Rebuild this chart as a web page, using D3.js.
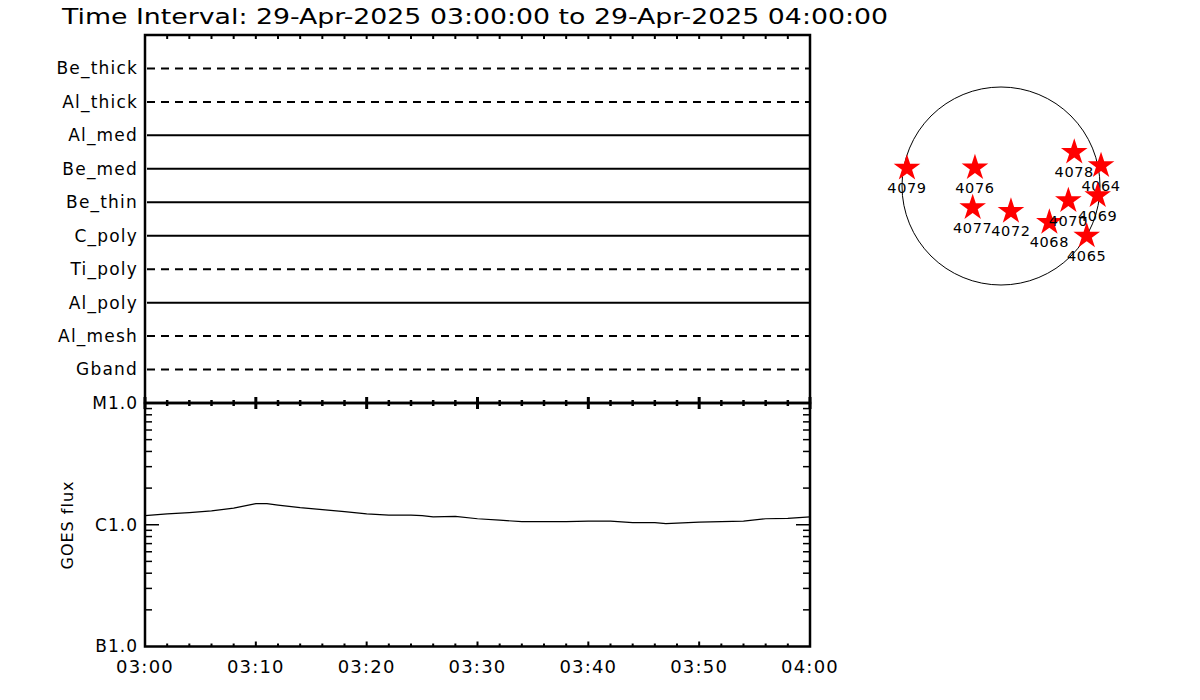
<!DOCTYPE html>
<html><head><meta charset="utf-8">
<script src="https://cdn.jsdelivr.net/npm/d3@7"></script>
<style>body{margin:0;background:#fff}svg{display:block}text{font-family:"DejaVu Sans",sans-serif;fill:#000}</style>
</head><body><svg id="c" width="1200" height="700"></svg>
<script>
const titleText = "Time Interval: 29-Apr-2025 03:00:00 to 29-Apr-2025 04:00:00";
const channels = ["Be_thick","Al_thick","Al_med","Be_med","Be_thin","C_poly","Ti_poly","Al_poly","Al_mesh","Gband"];
const channelDashed = [true,true,false,false,false,false,true,false,true,true];
const goesMinutes = [0,2,4,6,8,10,11,12,14,16,18,20,22,24,25,26,28,30,32,34,36,38,40,42,44,46,47,48,50,52,54,56,58,60];
const goesFlux = [1.19e-6,1.23e-6,1.26e-6,1.30e-6,1.37e-6,1.49e-6,1.49e-6,1.45e-6,1.38e-6,1.33e-6,1.28e-6,1.23e-6,1.20e-6,1.20e-6,1.19e-6,1.16e-6,1.17e-6,1.12e-6,1.09e-6,1.06e-6,1.06e-6,1.06e-6,1.07e-6,1.07e-6,1.04e-6,1.04e-6,1.02e-6,1.03e-6,1.05e-6,1.06e-6,1.07e-6,1.12e-6,1.13e-6,1.16e-6];
const goesTickValues = [1e-7,1e-6,1e-5];
const goesTickLabels = ["B1.0","C1.0","M1.0"];
const timeTickLabels = ["03:00","03:10","03:20","03:30","03:40","03:50","04:00"];
const regionIds = ["4079","4076","4077","4072","4068","4070","4078","4064","4069","4065"];
const regionX = [-906,-251,-273,96,466,649,706,964,932,826];
const regionY = [172,176,-209,-244,-350,-141,325,196,-93,-482];
const solarRadius = 954;

const svg = d3.select("#c");
const L=145,R=810,T=35,M=403,B=646.5;
const t0 = new Date(2025,3,29,3,0,0), t1 = new Date(2025,3,29,4,0,0);
const x = d3.scaleTime().domain([t0,t1]).range([L,R]);
const yCh = d3.scalePoint().domain(channels).range([T,M]).padding(1);
const yG = d3.scaleLog().domain([1e-7,1e-5]).range([B,M]);

// title
svg.append("text").attr("x",62).attr("y",24).attr("font-size",22)
  .attr("textLength",826).attr("lengthAdjust","spacingAndGlyphs").text(titleText);

// channel lines
const chg = svg.append("g");
channels.forEach((c,i)=>{
  chg.append("line").attr("x1",L+2).attr("x2",R).attr("y1",yCh(c)).attr("y2",yCh(c))
    .attr("stroke","#000").attr("stroke-width",2)
    .attr("stroke-dasharray",channelDashed[i]?"8,6":null);
  chg.append("text").attr("x",138).attr("y",yCh(c)).attr("dy","0.35em")
    .attr("text-anchor","end").attr("font-size",17).attr("letter-spacing","1.2px").text(c);
});

// minute ticks
const minTicks = d3.range(0,61,2).map(m=>new Date(t0.getTime()+m*60000));
const isMaj = d=> d.getMinutes()%10===0;
const tg = svg.append("g").attr("stroke","#000");
minTicks.forEach(d=>{
  const xx = x(d), maj=isMaj(d);
  tg.append("line").attr("x1",xx).attr("x2",xx).attr("y1",T).attr("y2",T+4).attr("stroke-width",2);
  tg.append("line").attr("x1",xx).attr("x2",xx).attr("y1",M-(maj?6:3)).attr("y2",M+(maj?6:3)).attr("stroke-width",maj?3:2.5);
  tg.append("line").attr("x1",xx).attr("x2",xx).attr("y1",B).attr("y2",B-(maj?5:3)).attr("stroke-width",2);
});

// frames
svg.append("rect").attr("x",L).attr("y",T).attr("width",R-L).attr("height",M-T)
  .attr("fill","none").attr("stroke","#000").attr("stroke-width",2.5);
svg.append("rect").attr("x",L).attr("y",M).attr("width",R-L).attr("height",B-M)
  .attr("fill","none").attr("stroke","#000").attr("stroke-width",2.5);

// GOES log ticks
const logTicks = [];
for (let e=-7;e<-5;e++) for (let k=1;k<=9;k++) logTicks.push(k*Math.pow(10,e));
logTicks.forEach(v=>{
  if (v===1e-7) return;
  const yy=yG(v); const maj = Math.abs(v-1e-6)<1e-12;
  const len = maj?14:7;
  tg.append("line").attr("x1",L).attr("x2",L+len).attr("y1",yy).attr("y2",yy).attr("stroke-width",1.5);
  tg.append("line").attr("x1",R).attr("x2",R-len).attr("y1",yy).attr("y2",yy).attr("stroke-width",1.5);
});
goesTickValues.forEach((v,i)=>{
  svg.append("text").attr("x",138).attr("y",yG(v)).attr("dy","0.35em").attr("text-anchor","end")
    .attr("font-size",17).attr("letter-spacing","1px").text(goesTickLabels[i]);
});
svg.append("text").attr("transform","translate(73,525) rotate(-90)").attr("text-anchor","middle")
  .attr("font-size",16).attr("letter-spacing","1px").text("GOES flux");

// time labels
timeTickLabels.forEach((s,i)=>{
  const d = new Date(t0.getTime()+i*600000);
  svg.append("text").attr("x",x(d)).attr("y",673).attr("text-anchor","middle").attr("font-size",18)
    .attr("letter-spacing","1.2px").text(s);
});

// GOES curve
const gdata = goesMinutes.map((m,i)=>({t:new Date(t0.getTime()+m*60000),f:goesFlux[i]}));
svg.append("path").datum(gdata).attr("fill","none").attr("stroke","#000").attr("stroke-width",1.2)
  .attr("d",d3.line().x(d=>x(d.t)).y(d=>yG(d.f)));

// solar disk
const sx = d3.scaleLinear().domain([-solarRadius,solarRadius]).range([902,1100]);
const sy = d3.scaleLinear().domain([-solarRadius,solarRadius]).range([285,87]);
svg.append("circle").attr("cx",sx(0)).attr("cy",sy(0)).attr("r",sx(solarRadius)-sx(0))
  .attr("fill","none").attr("stroke","#000").attr("stroke-width",1);
const star = d3.symbol().type(d3.symbolStar).size(220);
regionIds.forEach((id,i)=>{
  svg.append("path").attr("d",star()).attr("transform",`translate(${sx(regionX[i])},${sy(regionY[i])})`)
    .attr("fill","#ff0000");
  svg.append("text").attr("x",sx(regionX[i])).attr("y",sy(regionY[i])+20).attr("dy","0.35em")
    .attr("text-anchor","middle").attr("font-size",14.5).attr("letter-spacing","0.6px").text(id);
});
</script></body></html>
